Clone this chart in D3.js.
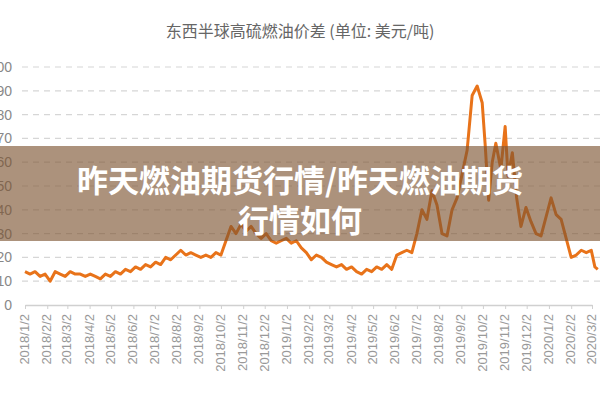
<!DOCTYPE html>
<html><head><meta charset="utf-8">
<script src="https://cdn.jsdelivr.net/npm/d3@7"></script>
<style>body{margin:0;background:#fff}svg{display:block}</style>
</head><body>
<svg id="c" width="600" height="400"></svg>
<script>
const title = "东西半球高硫燃油价差 (单位: 美元/吨)";
const bannerLines = ["昨天燃油期货行情/昨天燃油期货", "行情如何"];
const yTicks = [0,10,20,30,40,50,60,70,80,90,100];
const dates = ["2018-01-02","2018-01-09","2018-01-16","2018-01-23","2018-01-30","2018-02-06","2018-02-13","2018-02-20","2018-02-27","2018-03-06","2018-03-13","2018-03-20","2018-03-27","2018-04-03","2018-04-10","2018-04-17","2018-04-24","2018-05-01","2018-05-08","2018-05-15","2018-05-22","2018-05-29","2018-06-05","2018-06-12","2018-06-19","2018-06-26","2018-07-03","2018-07-10","2018-07-17","2018-07-24","2018-07-31","2018-08-07","2018-08-14","2018-08-21","2018-08-28","2018-09-04","2018-09-11","2018-09-18","2018-09-25","2018-10-02","2018-10-09","2018-10-16","2018-10-23","2018-10-30","2018-11-06","2018-11-13","2018-11-20","2018-11-27","2018-12-04","2018-12-11","2018-12-18","2018-12-25","2019-01-01","2019-01-08","2019-01-15","2019-01-22","2019-01-29","2019-02-05","2019-02-12","2019-02-19","2019-02-26","2019-03-05","2019-03-12","2019-03-19","2019-03-26","2019-04-02","2019-04-09","2019-04-16","2019-04-23","2019-04-30","2019-05-07","2019-05-14","2019-05-21","2019-05-28","2019-06-04","2019-06-11","2019-06-18","2019-06-25","2019-07-02","2019-07-09","2019-07-16","2019-07-23","2019-07-30","2019-08-06","2019-08-13","2019-08-20","2019-08-27","2019-09-03","2019-09-10","2019-09-17","2019-09-24","2019-10-01","2019-10-05","2019-10-10","2019-10-15","2019-10-20","2019-10-27","2019-11-02","2019-11-06","2019-11-12","2019-11-18","2019-11-24","2019-12-01","2019-12-08","2019-12-15","2019-12-22","2019-12-29","2020-01-05","2020-01-12","2020-01-19","2020-01-26","2020-02-02","2020-02-09","2020-02-16","2020-02-23","2020-03-01","2020-03-06","2020-03-10"];
const values = [14,13,14,12,13,10,14,13,12,14,13,13,12,13,12,11,13,12,14,13,15,14,16,15,17,16,18,17,20,19,21,23,21,22,21,20,21,20,22,21,27,33,30,34,31,33,30,28,30,27,26,27,28,26,27,24,22,19,21,20,18,17,16,17,15,16,14,13,15,14,16,15,17,15,21,22,23,22,30,40,36,48,42,30,29,40,45,55,65,88,92,85,68,44,60,68,57,75,54,64,45,33,41,35,30,29,37,45,38,36,28,20,21,23,22,23,16,15];

const svg = d3.select("#c");
const parse = d3.timeParse("%Y-%m-%d");
const data = dates.map((d,i)=>({d:parse(d), v:values[i]}));
const x = d3.scaleTime().domain([parse("2018-01-02"), parse("2020-03-02")]).range([25, 592]);
const y = d3.scaleLinear().domain([0,100]).range([305, 67]);

svg.append("text").attr("x",300).attr("y",37).attr("text-anchor","middle")
  .attr("font-family","'Noto Sans CJK SC', sans-serif").attr("font-size",16).attr("fill","#666").text(title);

svg.append("g").selectAll("line").data(yTicks.filter(t=>t>0)).join("line")
  .attr("x1",22).attr("x2",600).attr("y1",d=>y(d)).attr("y2",d=>y(d))
  .attr("stroke","#d6d6d6").attr("stroke-dasharray","6,5").attr("stroke-width",1.2);
svg.append("g").selectAll("text").data(yTicks).join("text")
  .attr("x",12).attr("y",d=>y(d)+5).attr("text-anchor","end")
  .attr("font-family","Arial, 'Liberation Sans', sans-serif").attr("font-size",14).attr("fill","#888").text(d=>d);

const months = d3.timeMonth.range(parse("2018-01-01"), parse("2020-03-05")).map(m=>new Date(m.getFullYear(), m.getMonth(), 2));
const fmt = d=>`${d.getFullYear()}/${d.getMonth()+1}/${d.getDate()}`;
const xa = svg.append("g").attr("transform","translate(0,305)")
  .call(d3.axisBottom(x).tickValues(months).tickFormat(fmt).tickSize(4).tickSizeOuter(0));
xa.select(".domain").attr("stroke","#d0d0d0").attr("stroke-width",1.5);
xa.selectAll(".tick line").attr("stroke","#d0d0d0");
xa.selectAll("text").attr("transform","rotate(-90)").attr("text-anchor","end")
  .attr("x",-9).attr("y",-1).attr("dy","0.35em")
  .attr("font-family","Arial, 'Liberation Sans', sans-serif").attr("font-size",13).attr("fill","#999");

svg.append("path").datum(data).attr("fill","none").attr("stroke","#E8731A").attr("stroke-width",3)
  .attr("stroke-linejoin","round").attr("d", d3.line().x(d=>x(d.d)).y(d=>y(d.v)));

svg.append("rect").attr("x",0).attr("y",146).attr("width",600).attr("height",95).attr("fill","rgba(125,85,50,0.64)");
svg.append("g").selectAll("text").data(bannerLines).join("text")
  .attr("x",300).attr("y",(d,i)=>192+i*40).attr("text-anchor","middle")
  .attr("font-family","'Noto Sans CJK SC', sans-serif").attr("font-weight","bold").attr("font-size",31)
  .attr("fill","#fff").text(d=>d);
</script>
</body></html>
